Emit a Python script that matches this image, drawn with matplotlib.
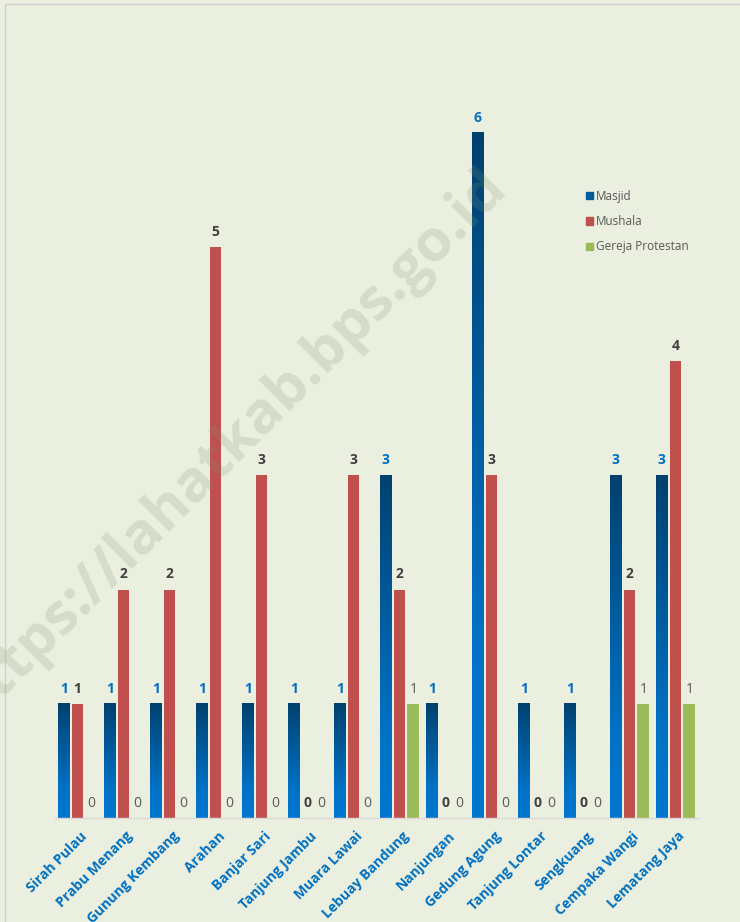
import numpy as np
import matplotlib
matplotlib.use('Agg')
import matplotlib.pyplot as plt
from matplotlib.colors import LinearSegmentedColormap
from matplotlib.patches import Rectangle

plt.rcParams['font.family'] = ['Open Sans', 'DejaVu Sans']

# data
desa = ['Sirah Pulau', 'Prabu Menang', 'Gunung Kembang', 'Arahan', 'Banjar Sari',
        'Tanjung Jambu', 'Muara Lawai', 'Lebuay Bandung', 'Nanjungan', 'Gedung Agung',
        'Tanjung Lontar', 'Sengkuang', 'Cempaka Wangi', 'Lematang Jaya']
masjid = [1, 1, 1, 1, 1, 1, 1, 3, 1, 6, 1, 1, 3, 3]
mushala = [1, 2, 2, 5, 3, 0, 3, 2, 0, 3, 0, 0, 2, 4]
gereja = [0, 0, 0, 0, 0, 0, 0, 1, 0, 0, 0, 0, 1, 1]

bg = '#EBEFDF'
blue_cmap = LinearSegmentedColormap.from_list(
    'masjid', [(0, '#0077CF'), (0.25, '#0072C6'), (1, '#00416F')])
grad = np.linspace(0, 1, 256).reshape(-1, 1)

fig = plt.figure(figsize=(7.4, 9.22), dpi=100, facecolor=bg)
fig.patches.append(Rectangle((5 / 740, -0.1), 1.2, 1 - 4 / 922 + 0.1,
                             transform=fig.transFigure, fill=False,
                             edgecolor='#D0D0D0', linewidth=1.0))

ax = fig.add_axes([54.5 / 740, 104 / 922, 644 / 740, 778 / 922])
ax.set_facecolor(bg)

x = np.arange(len(desa))
w = 0.26
off = 0.30

b1 = ax.bar(x - off, masjid, w, color='#0072C6', label='Masjid', zorder=2)
b2 = ax.bar(x, mushala, w, color='#C0504D', label='Mushala', zorder=2)
b3 = ax.bar(x + off, gereja, w, color='#9BBB59', label='Gereja Protestan', zorder=2)

# gradient fill for masjid bars
for p in b1:
    p.set_facecolor('none')
    ax.imshow(grad, cmap=blue_cmap, origin='lower', aspect='auto',
              extent=[p.get_x(), p.get_x() + p.get_width(), 0, p.get_height()],
              zorder=2)

# value labels
for xi, v in zip(x, masjid):
    ax.annotate(str(v), (xi - off, v), xytext=(0, 8), textcoords='offset points',
                ha='center', va='baseline', fontsize=10, fontweight='bold',
                color='#0070C0')
for xi, v in zip(x, mushala):
    ax.annotate(str(v), (xi, v), xytext=(0, 8), textcoords='offset points',
                ha='center', va='baseline', fontsize=10, fontweight='bold',
                color='#404040')
for xi, v in zip(x, gereja):
    ax.annotate(str(v), (xi + off, v), xytext=(0, 8), textcoords='offset points',
                ha='center', va='baseline', fontsize=10, color='#595959')

ax.set_xlim(-0.5, len(desa) - 0.5)
ax.set_ylim(0, 778 / 114.2)
ax.set_yticks([])
for s in ['top', 'right', 'left']:
    ax.spines[s].set_visible(False)
ax.spines['bottom'].set_color('#D9D9D9')
ax.spines['bottom'].set_linewidth(1.0)
ax.spines['bottom'].set_zorder(3)

ax.set_xticks(x + 0.05)
ax.set_xticklabels(desa, rotation=45, ha='right', va='top', rotation_mode='anchor',
                   fontsize=10, fontweight='bold', color='#0070C0')
ax.tick_params(axis='x', length=0, pad=8)

# legend
leg_ax_handles = [Rectangle((0, 0), 1, 1, color='#005A9C'),
                  Rectangle((0, 0), 1, 1, color='#C0504D'),
                  Rectangle((0, 0), 1, 1, color='#9BBB59')]
leg = fig.legend(leg_ax_handles, ['Masjid', 'Mushala', 'Gereja Protestan'],
                 loc='upper left', bbox_to_anchor=(575 / 740, 1 - 179 / 922),
                 frameon=False, fontsize=8.5, handlelength=0.6, handleheight=0.6,
                 handletextpad=0.3, labelspacing=1.05, labelcolor='#595959')

# watermark (cut off at the left edge as in the source)
fig.text(230 / 740, 1 - 446 / 922, 'https://lahatkab.bps.go.id', rotation=45,
         ha='center', va='center', fontsize=42, fontweight='bold',
         color='#7F8F70', alpha=0.2, zorder=10)

fig.savefig('out.png', dpi=100, facecolor=bg)
